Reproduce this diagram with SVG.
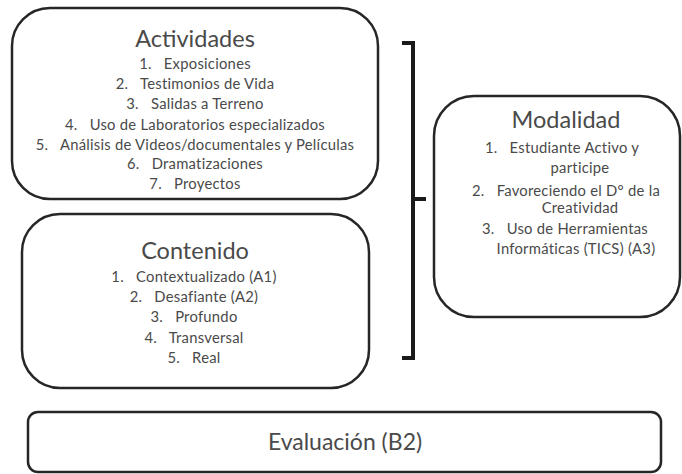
<svg xmlns="http://www.w3.org/2000/svg" width="682" height="474" viewBox="0 0 682 474">
<style>
.box{fill:#fff;stroke:#262626;stroke-width:2.5}
.t{font-family:Lato,"Open Sans",sans-serif;fill:#4a4a4a;text-anchor:middle;white-space:pre}
.h{font-size:23.5px}
.l{font-size:14.8px;letter-spacing:0.25px}
.e{font-size:23px}
.br{fill:none;stroke:#1a1a1a;stroke-width:4}
</style>
<rect width="682" height="474" fill="#fff"/>
<g id="actividades">
<rect class="box" x="12" y="8" width="366" height="191" rx="38"/>
<text class="t h" x="195" y="47">Actividades</text>
<text class="t l" x="195" y="69" xml:space="preserve">1.   Exposiciones</text>
<text class="t l" x="195" y="89" xml:space="preserve">2.   Testimonios de Vida</text>
<text class="t l" x="195" y="109" xml:space="preserve">3.   Salidas a Terreno</text>
<text class="t l" x="195" y="130" xml:space="preserve">4.   Uso de Laboratorios especializados</text>
<text class="t l" x="195" y="150" xml:space="preserve">5.   Análisis de Videos/documentales y Películas</text>
<text class="t l" x="195" y="169" xml:space="preserve">6.   Dramatizaciones</text>
<text class="t l" x="195" y="189" xml:space="preserve">7.   Proyectos</text>
</g>
<g id="contenido">
<rect class="box" x="22" y="214" width="347" height="174" rx="38"/>
<text class="t h" x="195" y="259">Contenido</text>
<text class="t l" x="194" y="282" xml:space="preserve">1.   Contextualizado (A1)</text>
<text class="t l" x="194" y="302" xml:space="preserve">2.   Desafiante (A2)</text>
<text class="t l" x="194" y="322" xml:space="preserve">3.   Profundo</text>
<text class="t l" x="194" y="343" xml:space="preserve">4.   Transversal</text>
<text class="t l" x="194" y="363" xml:space="preserve">5.   Real</text>
</g>
<g id="modalidad">
<rect class="box" x="434" y="96" width="246" height="221" rx="40"/>
<text class="t h" x="566" y="128">Modalidad</text>
<text class="t l" x="562" y="153" xml:space="preserve">1.   Estudiante Activo y</text>
<text class="t l" x="580" y="173">participe</text>
<text class="t l" x="566" y="196" xml:space="preserve">2.   Favoreciendo el D° de la</text>
<text class="t l" x="580" y="213">Creatividad</text>
<text class="t l" x="565" y="234" xml:space="preserve">3.   Uso de Herramientas</text>
<text class="t l" x="576" y="254">Informáticas (TICS) (A3)</text>
</g>
<g id="evaluacion">
<rect class="box" x="28" y="412" width="633" height="60" rx="10"/>
<text class="t e" x="345" y="450">Evaluación (B2)</text>
</g>
<g id="connectors">
<path class="br" d="M402,43 H413 V358 H402 M413,199 H426"/>
</g>
</svg>
